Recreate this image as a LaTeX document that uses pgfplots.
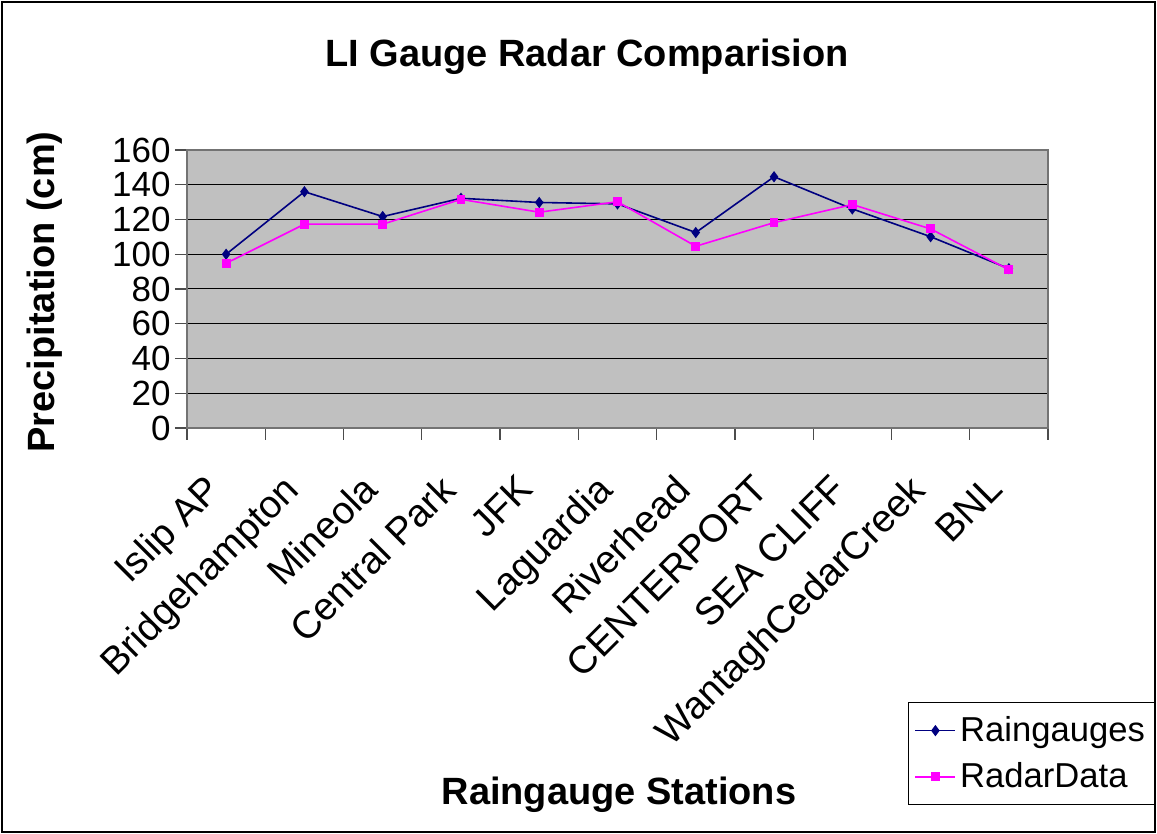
\documentclass[border=0pt]{standalone}
\usepackage{pgfplots}
\pgfplotsset{compat=1.18}
\usepackage{fontspec}
\setmainfont{Liberation Sans}
\definecolor{rgnavy}{HTML}{000080}
\definecolor{rdmag}{HTML}{FF00FF}
\definecolor{plotgray}{HTML}{C0C0C0}
\begin{document}
\begin{tikzpicture}
\useasboundingbox (-93.5pt,-203pt) rectangle (485pt,214pt);
\draw[black, line width=0.6pt] (-92.5pt,-202pt) rectangle (484pt,213pt);
\begin{axis}[
  scale only axis,
  width=430.5pt, height=139pt,
  xmin=-0.5, xmax=10.5,
  ymin=0, ymax=160,
  ytick={0,20,...,160},
  xtick={0,...,10},
  xticklabels={Islip AP,Bridgehampton,Mineola,Central Park,JFK,Laguardia,Riverhead,CENTERPORT,SEA CLIFF,WantaghCedarCreek,BNL},
  minor xtick={-0.5,0.5,...,10.5},
  major x tick style={draw=none},
  minor tick length=6pt,
  major tick length=6pt,
  tick align=outside,
  xtick pos=bottom, ytick pos=left,
  tick style={black!70, line width=0.6pt},
  axis background/.style={fill=plotgray},
  axis line style={black!55, line width=0.8pt},
  ymajorgrids,
  grid style={black, line width=0.5pt},
  /pgf/number format/assume math mode=true,
  yticklabel style={font=\fontsize{17.5}{20}\selectfont, inner sep=1pt, xshift=-1pt},
  xticklabel style={font=\fontsize{19.3}{22}\selectfont, inner sep=0pt, xshift=-11.5pt, yshift=-16pt, rotate=45, anchor=north east},
  legend style={at={(0.8374,-0.9856)}, anchor=north west, draw=black, line width=0.6pt,
    font=\fontsize{17.3}{20}\selectfont, inner xsep=3pt, inner ysep=5pt, row sep=5pt,
    legend cell align=left},
  legend image code/.code={\draw[#1] (0pt,0pt) -- (20pt,0pt); \draw[#1, mark repeat=1] plot coordinates {(10pt,0pt)};},
]
\addplot[color=rgnavy, line width=0.8pt, mark=diamond*, mark size=2.2pt, mark options={fill=rgnavy, draw=rgnavy}] coordinates {
(0,100.0) (1,136.0) (2,121.7) (3,132.2) (4,129.8) (5,129.0) (6,112.5) (7,144.6) (8,126.1) (9,110.1) (10,91.7)};
\addlegendentry{Raingauges}
\addplot[color=rdmag, line width=0.8pt, mark=square*, mark size=1.8pt, mark options={fill=rdmag, draw=rdmag}] coordinates {
(0,94.8) (1,117.3) (2,117.3) (3,131.6) (4,124.2) (5,130.2) (6,104.6) (7,118.2) (8,128.6) (9,114.6) (10,91.1)};
\addlegendentry{RadarData}
\end{axis}
\node[font=\bfseries\fontsize{19}{22}\selectfont] at (200pt,185.5pt) {LI Gauge Radar Comparision};
\node[font=\bfseries\fontsize{19}{22}\selectfont, rotate=90] at (-71pt,68pt) {Precipitation (cm)};
\node[font=\bfseries\fontsize{19}{22}\selectfont] at (216pt,-183.5pt) {Raingauge Stations};
\end{tikzpicture}
\end{document}
